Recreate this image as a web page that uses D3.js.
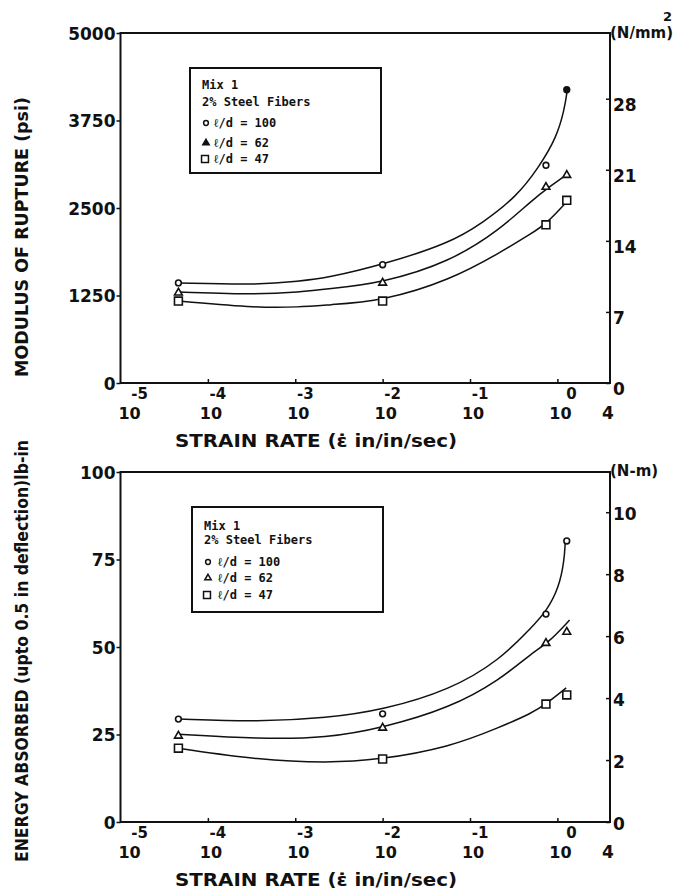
<!DOCTYPE html>
<meta charset="utf-8">
<style>
  body { margin: 0; background: #fff; }
  text { font-family: "DejaVu Sans", sans-serif; fill: #111; }
  .num { font-size: 17px; font-weight: bold; }
  .title { font-size: 18px; font-weight: bold; }
  .legend text { font-family: "DejaVu Sans Mono", monospace; font-size: 12px; font-weight: bold; }
  .legend rect { fill: none; stroke: #111; stroke-width: 2px; }
  .frame { fill: none; stroke: #111; stroke-width: 2px; }
  .fit { fill: none; stroke: #111; stroke-width: 1.5px; }
  .mark { fill: #fff; stroke: #111; stroke-width: 1.6px; }
  .tick line { stroke: #111; stroke-width: 1.5px; }
</style>
<svg width="677" height="895"></svg>
<script src="https://d3js.org/d3.v7.min.js"></script>
<script>
// strain rate (in/in/sec) of the four tests
var strainRate = [4.6e-5, 0.01, 0.74, 1.28];
var xTickExps = [-5, -4, -3, -2, -1, 0];
var legendHead = ["Mix 1", "2% Steel Fibers"];
var seriesNames = ["ℓ/d = 100", "ℓ/d = 62", "ℓ/d = 47"];

// modulus of rupture (psi)
var mor100 = [1430, 1690, 3110, 4190];
var mor62 = [1290, 1430, 2800, 2970];
var mor47 = [1170, 1170, 2260, 2610];
var morTicks = [0, 1250, 2500, 3750, 5000];
var morTicksSI = [0, 7, 14, 21, 28];
// fitted curves [strain rate, psi]
var morFit100 = [[4.6e-5,1430],[3.9e-4,1400],[1.1e-3,1455],[2.3e-3,1500],[0.01,1690],[0.059,2000],[0.14,2290],[0.34,2660],[0.62,3090],[0.98,3510],[1.2,3900],[1.3,4190]];
var morFit62 = [[4.6e-5,1300],[3.9e-4,1260],[1.1e-3,1300],[2.3e-3,1340],[0.01,1430],[0.059,1730],[0.22,2190],[0.51,2610],[0.87,2830],[1.22,2960]];
var morFit47 = [[4.6e-5,1170],[3.9e-4,1070],[1.1e-3,1085],[2.3e-3,1115],[0.01,1170],[0.059,1470],[0.22,1860],[0.51,2140],[0.74,2270],[1.28,2590]];

// energy absorbed (lb-in)
var en100 = [29.4, 30.9, 59.4, 80.3];
var en62 = [24.6, 26.9, 51.1, 54.3];
var en47 = [21.1, 18.0, 33.7, 36.3];
var enTicks = [0, 25, 50, 75, 100];
var enTicksSI = [0, 2, 4, 6, 8, 10];
var enFit100 = [[4.6e-5,29.4],[3.9e-4,28.6],[2.3e-3,29.7],[0.01,32.0],[0.059,37.7],[0.22,46.3],[0.51,55.7],[0.74,60.0],[1.05,67.1],[1.2,74.9],[1.23,80.0]];
var enFit62 = [[4.6e-5,25.1],[3.9e-4,23.7],[2.3e-3,24.0],[0.01,26.9],[0.059,32.6],[0.22,40.6],[0.51,48.3],[0.78,51.1],[1.38,57.7]];
var enFit47 = [[4.6e-5,21.1],[3.9e-4,17.7],[2.3e-3,16.9],[8.9e-3,17.7],[0.059,21.4],[0.22,27.1],[0.51,31.1],[0.74,33.7],[1.26,38.3]];

var svg = d3.select("svg");
var x = d3.scaleLog().domain([1e-5, 4]).range([120.5, 610]);
var symbols = [d3.symbolCircle, d3.symbolTriangle, d3.symbolSquare];
var symSize = [26, 26, 62];

function drawPanel(p) {
  var g = svg.append("g");
  var y = d3.scaleLinear().domain([0, p.yMax]).range([p.bottom, p.top]);
  var y2 = d3.scaleLinear().domain([0, p.yMax * p.toSI]).range([p.bottom, p.top]);
  var x0 = x.range()[0], x1 = x.range()[1];

  g.append("rect").attr("class", "frame")
    .attr("x", x0).attr("y", p.top).attr("width", x1 - x0).attr("height", p.bottom - p.top);

  // left axis
  var la = g.append("g").attr("transform", "translate(" + x0 + ",0)")
    .call(d3.axisLeft(y).tickValues(p.ticks).tickSize(4).tickPadding(1).tickFormat(d3.format("d")));
  la.attr("font-size", null).attr("font-family", null);
  la.select(".domain").remove();
  la.selectAll("text").attr("class", "num").attr("dy", "0.38em");

  // right axis (SI units)
  var ra = g.append("g").attr("transform", "translate(" + x1 + ",0)")
    .call(d3.axisRight(y2).tickValues(p.ticksSI).tickSize(-4).tickPadding(3));
  ra.attr("font-size", null).attr("font-family", null);
  ra.select(".domain").remove();
  ra.selectAll("text").attr("class", "num").attr("dy", p.siDy);

  // bottom axis, inward ticks
  var ba = g.append("g").attr("transform", "translate(0," + p.bottom + ")")
    .call(d3.axisBottom(x).tickValues(xTickExps.slice(1).map(function(e) { return Math.pow(10, e); }))
      .tickSize(-4).tickFormat(""));
  ba.select(".domain").remove();

  var lab = g.append("g").selectAll("g").data(xTickExps).enter().append("g")
    .attr("transform", function(e) { return "translate(" + x(Math.pow(10, e)) + "," + p.bottom + ")"; });
  lab.append("text").attr("class", "num").style("font-size", "16px")
    .attr("x", function(e) { return e === -5 ? 9 : 3; }).attr("y", 36)
    .attr("text-anchor", "middle").text("10");
  lab.append("text").attr("class", "num").style("font-size", "15px")
    .attr("x", function(e) { return e === -5 ? 19 : (e === 0 ? 14 : 10); }).attr("y", 16)
    .attr("text-anchor", "middle").text(function(e) { return e; });
  g.append("text").attr("class", "num").style("font-size", "17px")
    .attr("x", x(4) - 2).attr("y", p.bottom + 36).attr("text-anchor", "middle").text("4");

  // titles
  g.append("text").attr("class", "title")
    .attr("x", 316).attr("y", p.bottom + 64).attr("text-anchor", "middle")
    .attr("textLength", 282).attr("lengthAdjust", "spacingAndGlyphs")
    .text("STRAIN RATE (ε̇  in/in/sec)");
  g.append("text").attr("class", "title")
    .attr("transform", "translate(28," + p.yTitleMid + ") rotate(-90)")
    .attr("text-anchor", "middle")
    .attr("textLength", p.yTitleLen).attr("lengthAdjust", "spacingAndGlyphs")
    .text(p.yTitle);
  g.append("text").attr("class", "num").style("font-size", "15px")
    .attr("x", x1).attr("y", p.top + (p.unitSup ? 5 : 4)).text(p.unit);
  if (p.unitSup) {
    g.append("text").attr("class", "num").style("font-size", "13px")
      .attr("x", x1 + 53).attr("y", p.top - 12).text(p.unitSup);
  }

  // fitted curves
  var line = d3.line().x(function(d) { return x(d[0]); }).y(function(d) { return y(d[1]); })
    .curve(d3.curveBasis);
  g.selectAll(".fit").data(p.fits).enter().append("path")
    .attr("class", "fit").attr("d", line);

  // data markers
  p.series.forEach(function(vals, si) {
    g.selectAll(null).data(vals).enter().append("path")
      .attr("class", "mark")
      .attr("transform", function(d, i) { return "translate(" + x(strainRate[i]) + "," + y(d) + ")"; })
      .attr("d", d3.symbol(symbols[si], symSize[si]))
      .style("fill", function(d, i) { return (p.filledLast && si === 0 && i === 3) ? "#111" : "#fff"; });
  });

  // legend
  var lg = g.append("g").attr("class", "legend");
  lg.append("rect").attr("x", p.lx).attr("y", p.ly).attr("width", 191).attr("height", p.lh);
  lg.selectAll(".head").data(legendHead).enter().append("text")
    .attr("x", p.lx + 12).attr("y", function(d, i) { return p.lrows[i]; }).text(function(d) { return d; });
  var rows = lg.selectAll(".row").data(seriesNames).enter().append("g")
    .attr("transform", function(d, i) { return "translate(" + p.lx + "," + p.lrows[i + 2] + ")"; });
  rows.append("path")
    .attr("transform", function(d, i) { return "translate(" + (i === 2 ? 15 : 16) + ",-4)"; })
    .attr("d", function(d, i) { return d3.symbol(symbols[i], i === 2 ? 48 : 18)(); })
    .style("fill", function(d, i) { return (p.legendFillTri && i === 1) ? "#111" : "#fff"; })
    .style("stroke", "#111").style("stroke-width", 1.5);
  rows.append("text").attr("x", p.ltx).text(function(d) { return d; });
}

drawPanel({
  top: 33, bottom: 383, yMax: 5000, toSI: 1 / 145.04,
  ticks: morTicks, ticksSI: morTicksSI, siDy: "0.7em",
  yTitle: "MODULUS OF RUPTURE (psi)", yTitleMid: 237, yTitleLen: 280,
  unit: "(N/mm)", unitSup: "2",
  fits: [morFit100, morFit62, morFit47], series: [mor100, mor62, mor47], filledLast: true,
  lx: 190, ly: 68, lh: 105, lrows: [89, 106, 127, 147, 163], ltx: 24, legendFillTri: true
});

drawPanel({
  top: 472, bottom: 822, yMax: 100, toSI: 0.11298,
  ticks: enTicks, ticksSI: enTicksSI, siDy: "0.45em",
  yTitle: "ENERGY ABSORBED (upto 0.5 in deflection)lb-in", yTitleMid: 651, yTitleLen: 422,
  unit: "(N-m)", unitSup: null,
  fits: [enFit100, enFit62, enFit47], series: [en100, en62, en47], filledLast: false,
  lx: 192, ly: 507, lh: 105, lrows: [530, 544, 566, 582, 599], ltx: 26, legendFillTri: false
});
</script>
